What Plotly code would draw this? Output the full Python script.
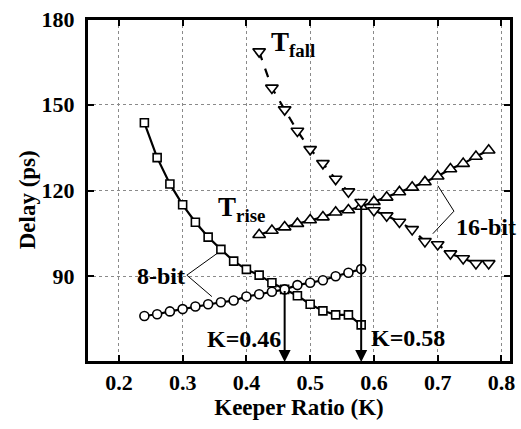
import plotly.graph_objects as go

# ---- data ----
k_8bit = [0.24, 0.26, 0.28, 0.30, 0.32, 0.34, 0.36, 0.38, 0.40, 0.42, 0.44, 0.46,
          0.48, 0.50, 0.52, 0.54, 0.56, 0.58]
fall_8bit = [143.7, 131.5, 122.3, 115.0, 108.9, 103.7, 99.4, 95.3, 92.4, 90.4, 87.7,
             85.4, 83.2, 80.2, 77.9, 76.5, 76.5, 73.0]
rise_8bit = [76.1, 76.7, 77.7, 78.5, 79.4, 80.2, 80.9, 81.5, 82.9, 83.7, 84.6, 85.4,
             86.9, 87.7, 88.6, 90.0, 91.2, 92.5]

k_16bit = [0.42, 0.44, 0.46, 0.48, 0.50, 0.52, 0.54, 0.56, 0.58, 0.60, 0.62, 0.64,
           0.66, 0.68, 0.70, 0.72, 0.74, 0.76, 0.78]
rise_16bit = [104.5, 106.0, 107.2, 108.4, 109.7, 110.7, 112.4, 113.2, 114.4, 116.1,
              117.6, 119.5, 121.1, 123.0, 125.0, 127.5, 129.4, 131.9, 134.1]
fall_16bit = [168.6, 155.9, 148.3, 140.8, 134.4, 129.5, 124.0, 119.6, 115.9, 113.0,
              111.2, 109.0, 106.4, 102.2, 101.1, 97.9, 96.2, 94.5, 94.5]

cross_k = [0.46, 0.58]
cross_delay = [85.4, 115.2]
x_ticks = [0.2, 0.3, 0.4, 0.5, 0.6, 0.7, 0.8]
y_ticks = [90, 120, 150, 180]

FONT = "Liberation Serif"
BLACK = "black"

fig = go.Figure()

def add_series(x, y, symbol, size, dash="solid"):
    fig.add_trace(go.Scatter(
        x=x, y=y, mode="lines+markers",
        line=dict(color=BLACK, width=2.2, dash=dash),
        marker=dict(symbol=symbol, size=size, color="white",
                    line=dict(color=BLACK, width=1.6)),
        showlegend=False, cliponaxis=False))

add_series(k_8bit, fall_8bit, "square", 8)
add_series(k_8bit, rise_8bit, "circle", 9)
add_series(k_16bit, rise_16bit, "triangle-up", 11)
add_series(k_16bit, fall_16bit, "triangle-down", 11, dash="dash")

# leader lines for labels
fig.add_trace(go.Scatter(x=[0.3537, 0.3066, 0.3459], y=[97.93, 90.38, 82.88],
                         mode="lines", line=dict(color=BLACK, width=1),
                         showlegend=False, hoverinfo="skip"))
fig.add_trace(go.Scatter(x=[0.7003, 0.7255, 0.6924], y=[121.67, 112.77, 104.88],
                         mode="lines", line=dict(color=BLACK, width=1),
                         showlegend=False, hoverinfo="skip"))

# vertical arrows at crossing points
for kx, dy in zip(cross_k, cross_delay):
    fig.add_annotation(x=kx, y=60, ax=kx, ay=dy, xref="x", yref="y",
                       axref="x", ayref="y", showarrow=True, arrowhead=2,
                       arrowsize=1.2, arrowwidth=2, arrowcolor=BLACK, text="")

txt = dict(family=FONT, size=24, color=BLACK)
big = dict(family=FONT, size=27, color=BLACK)
fig.add_annotation(x=0.436, y=171.3, text="<b>T<sub>fall</sub></b>", showarrow=False,
                   xanchor="left", yanchor="middle", font=big)
fig.add_annotation(x=0.352, y=113.6, text="<b>T<sub>rise</sub></b>", showarrow=False,
                   xanchor="left", yanchor="middle", font=big)
fig.add_annotation(x=0.225, y=90.2, text="<b>8-bit</b>", showarrow=False,
                   xanchor="left", yanchor="middle", font=txt)
fig.add_annotation(x=0.726, y=107.3, text="<b>16-bit</b>", showarrow=False,
                   xanchor="left", yanchor="middle", font=txt)
fig.add_annotation(x=0.3354, y=68.0, text="<b>K=0.46</b>", showarrow=False,
                   xanchor="left", yanchor="middle", font=txt)
fig.add_annotation(x=0.592, y=68.4, text="<b>K=0.58</b>", showarrow=False,
                   xanchor="left", yanchor="middle", font=txt)

# y axis title as annotation
fig.add_annotation(x=-0.141, y=0.472, xref="paper", yref="paper", text="<b>Delay (ps)</b>",
                   textangle=-90, showarrow=False, xanchor="center", yanchor="middle",
                   font=dict(family=FONT, size=23, color=BLACK))

# black frame around the plot area
fig.add_shape(type="rect", xref="paper", yref="paper", x0=0, x1=1, y0=0, y1=1,
              line=dict(color=BLACK, width=2), layer="above")

axis_common = dict(showline=True, linecolor=BLACK, linewidth=2, mirror="ticks",
                   ticks="inside", ticklen=7, tickwidth=2, tickcolor=BLACK,
                   showgrid=True, gridcolor="#8a8a8a", gridwidth=1, griddash="dot",
                   zeroline=False, ticklabeloverflow="allow", automargin=False,
                   tickfont=dict(family=FONT, size=22, color=BLACK))

fig.update_xaxes(range=[0.15, 0.815], tickvals=x_ticks,
                 ticktext=[f"<b>{v:.1f}</b>" for v in x_ticks],
                 title=dict(text="<b>Keeper Ratio (K)</b>", standoff=2,
                            font=dict(family=FONT, size=23, color=BLACK)),
                 **axis_common)
fig.update_yaxes(range=[60, 180], tickvals=y_ticks,
                 ticktext=[f"<b>{v}</b>" for v in y_ticks],
                 ticklabelstandoff=6, **axis_common)

fig.update_layout(width=521, height=429, margin=dict(l=87, r=10, t=19, b=67),
                  plot_bgcolor="white", paper_bgcolor="white")

fig.write_html("out.html", config={"displayModeBar": False},
               post_script="document.body.style.margin='0';"
                           "document.body.style.overflow='hidden';")
